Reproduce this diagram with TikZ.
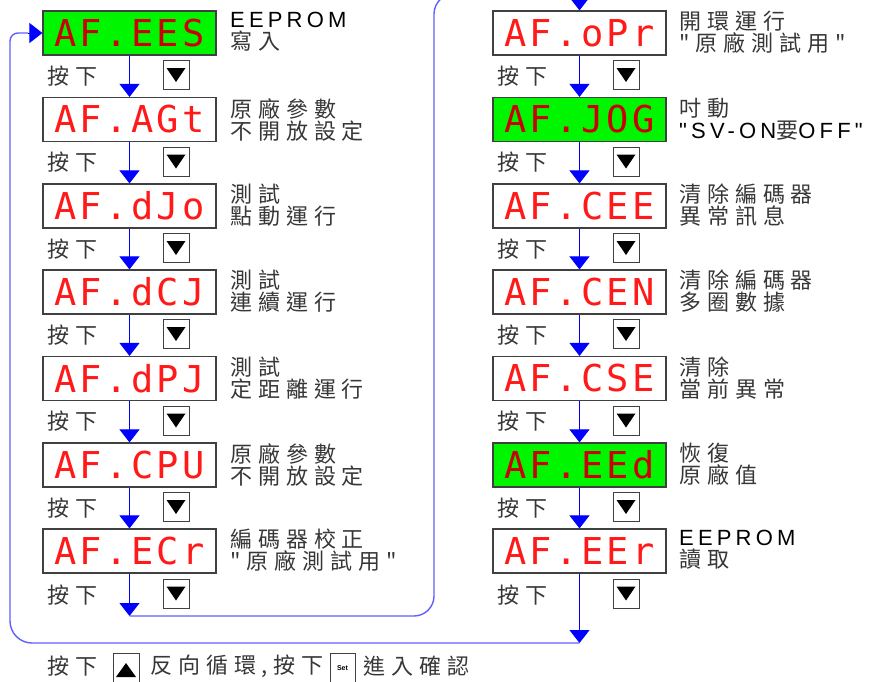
\documentclass[tikz,border=0pt]{standalone}
\usepackage{fontspec}
\usetikzlibrary{arrows.meta}

\setmainfont{Liberation Sans}
\newfontfamily\cjk[LetterSpace=27]{Noto Sans CJK TC}
\newfontfamily\lat[LetterSpace=19]{Liberation Sans}
\newfontfamily\seg[LetterSpace=9]{DejaVu Sans Mono}

\definecolor{looplight}{RGB}{95,95,255}
\definecolor{textgray}{RGB}{55,55,55}
\definecolor{segred}{RGB}{255,25,25}
\definecolor{lcdgreen}{RGB}{0,245,0}

\tikzset{
  disp/.style={draw=black!75, line width=1.2pt, fill=white, minimum width=173pt,
    minimum height=44pt, inner sep=0pt, text=segred, font=\seg\fontsize{37}{37}\selectfont},
  lit/.style={disp, fill=lcdgreen, text=red!80!black},
  desc/.style={anchor=north west, inner sep=0pt, align=left, text=textgray,
    font=\cjk\fontsize{22}{22}\selectfont},
  press/.style={anchor=west, inner sep=0pt, text=textgray, font=\cjk\fontsize{22}{22}\selectfont},
  keydown/.style={draw=black!75, line width=1pt, minimum width=26pt, minimum height=29pt, inner sep=0pt,
    path picture={\fill ([xshift=-9.5pt,yshift=7pt]path picture bounding box.center)
      -- ++(19,0) -- ++(-9.5,14) -- cycle;}},
  keyup/.style={draw=black!75, line width=1pt, minimum width=26pt, minimum height=29pt, inner sep=0pt,
    path picture={\fill ([xshift=-10pt,yshift=-9pt]path picture bounding box.center)
      -- ++(20,0) -- ++(-10,-14) -- cycle;}},
  keyset/.style={draw=black!75, line width=1pt, minimum width=25pt, minimum height=29pt, inner sep=0pt,
    font=\bfseries\fontsize{7}{7}\selectfont},
  flow/.style={blue, line width=1pt, -{Triangle[width=20pt,length=13pt]}},
  loopline/.style={looplight, line width=1.4pt}
}

\begin{document}
\begin{tikzpicture}[x=1pt, y=-1pt]

    \useasboundingbox (0,0) rectangle (870,681);

    % Left column of displays
    \node[lit]  (ees) at (129.5,33)    {AF.EES};
    \node[disp] (agt) at (129.5,119.5) {AF.AGt};
    \node[disp] (djo) at (129.5,206)   {AF.dJo};
    \node[disp] (dcj) at (129.5,292)   {AF.dCJ};
    \node[disp] (dpj) at (129.5,378.5) {AF.dPJ};
    \node[disp] (cpu) at (129.5,465)   {AF.CPU};
    \node[disp] (ecr) at (129.5,551)   {AF.ECr};

    % Right column of displays
    \node[disp] (opr) at (579.5,33)    {AF.oPr};
    \node[lit]  (jog) at (579.5,119.5) {AF.JOG};
    \node[disp] (cee) at (579.5,206)   {AF.CEE};
    \node[disp] (cen) at (579.5,292)   {AF.CEN};
    \node[disp] (cse) at (579.5,378.5) {AF.CSE};
    \node[lit]  (eed) at (579.5,465)   {AF.EEd};
    \node[disp] (eer) at (579.5,551)   {AF.EEr};

    % Descriptions beside the displays
    \node[desc] (ees-d) at (230,12)  {{\lat\color{black}EEPROM}\\寫入};
    \node[desc] (agt-d) at (230,98)  {原廠參數\\不開放設定};
    \node[desc] (djo-d) at (230,184) {測試\\點動運行};
    \node[desc] (dcj-d) at (230,270) {測試\\連續運行};
    \node[desc] (dpj-d) at (230,357) {測試\\定距離運行};
    \node[desc] (cpu-d) at (230,443) {原廠參數\\不開放設定};
    \node[desc] (ecr-d) at (230,529) {編碼器校正\\"原廠測試用"};

    \node[desc] (opr-d) at (679,11)  {開環運行\\"原廠測試用"};
    \node[desc] (jog-d) at (679,98)  {吋動\\{\lat\color{black}"SV-ON}要{\lat\color{black}OFF"}};
    \node[desc] (cee-d) at (679,184) {清除編碼器\\異常訊息};
    \node[desc] (cen-d) at (679,270) {清除編碼器\\多圈數據};
    \node[desc] (cse-d) at (679,357) {清除\\當前異常};
    \node[desc] (eed-d) at (679,443) {恢復\\原廠值};
    \node[desc] (eer-d) at (679,530) {{\lat\color{black}EEPROM}\\讀取};

    % Press labels and down keys, left column
    \node[press] (p1) at (47,76)    {按下};
    \node[press] (p2) at (47,162.5) {按下};
    \node[press] (p3) at (47,249)   {按下};
    \node[press] (p4) at (47,335)   {按下};
    \node[press] (p5) at (47,421.5) {按下};
    \node[press] (p6) at (47,508)   {按下};
    \node[press] (p7) at (47,595)   {按下};
    \node[keydown] (k1) at (176,75)    {};
    \node[keydown] (k2) at (176,161.5) {};
    \node[keydown] (k3) at (176,248)   {};
    \node[keydown] (k4) at (176,334)   {};
    \node[keydown] (k5) at (176,420.5) {};
    \node[keydown] (k6) at (176,507)   {};
    \node[keydown] (k7) at (176,593.5) {};

    % Press labels and down keys, right column
    \node[press] (q1) at (497,76)    {按下};
    \node[press] (q2) at (497,162.5) {按下};
    \node[press] (q3) at (497,249)   {按下};
    \node[press] (q4) at (497,335)   {按下};
    \node[press] (q5) at (497,421.5) {按下};
    \node[press] (q6) at (497,508)   {按下};
    \node[press] (q7) at (497,595)   {按下};
    \node[keydown] (m1) at (626,75)    {};
    \node[keydown] (m2) at (626,161.5) {};
    \node[keydown] (m3) at (626,248)   {};
    \node[keydown] (m4) at (626,334)   {};
    \node[keydown] (m5) at (626,420.5) {};
    \node[keydown] (m6) at (626,507)   {};
    \node[keydown] (m7) at (626,593.5) {};

    % Downward steps
    \draw[flow] (ees) -- (agt);
    \draw[flow] (agt) -- (djo);
    \draw[flow] (djo) -- (dcj);
    \draw[flow] (dcj) -- (dpj);
    \draw[flow] (dpj) -- (cpu);
    \draw[flow] (cpu) -- (ecr);
    \draw[flow] (opr) -- (jog);
    \draw[flow] (jog) -- (cee);
    \draw[flow] (cee) -- (cen);
    \draw[flow] (cen) -- (cse);
    \draw[flow] (cse) -- (eed);
    \draw[flow] (eed) -- (eer);

    % Inner loop: bottom of left column to top of right column
    \coordinate (innerend) at (129.5,616);
    \coordinate (innertop) at (579.5,-6);
    \draw[flow] (ecr) -- (innerend);
    \draw[loopline, rounded corners=20pt] (innerend) -- (434,616) -- (434,-6) -- (innertop);
    \draw[flow] (innertop) -- (opr);

    % Outer loop: bottom of right column back to the first display
    \coordinate (outerend) at (579.5,643);
    \coordinate (outerturn) at (28,33);
    \draw[flow] (eer) -- (outerend);
    \draw[loopline] (outerend) [rounded corners=22pt] -- (10,643) [rounded corners=8pt] -- (10,33) -- (outerturn);
    \draw[flow] (outerturn) -- (ees);

    % Hint line at the bottom
    \node[press] (h1) at (47,666)  {按下};
    \node[keyup] (kup) at (126,668) {};
    \node[press] (h2) at (150,666) {反向循環,按下};
    \node[keyset] (kset) at (342.5,668) {Set};
    \node[press] (h3) at (363,666) {進入確認};

\end{tikzpicture}
\end{document}
